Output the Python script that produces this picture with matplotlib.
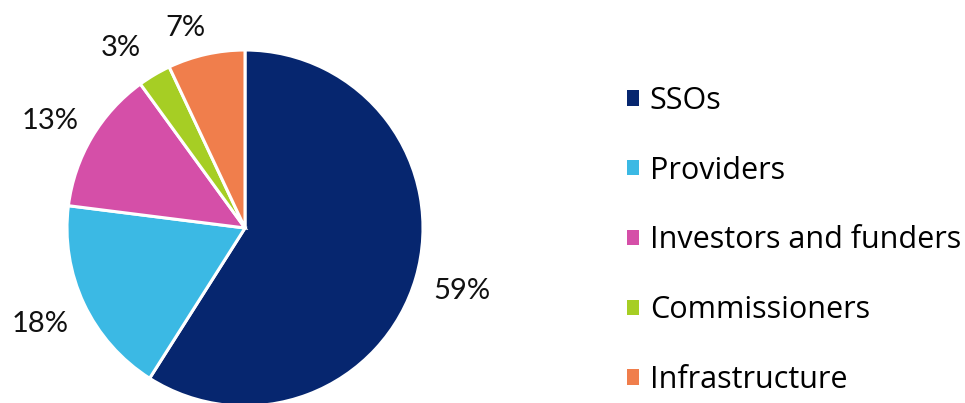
import matplotlib
matplotlib.use("Agg")
import matplotlib.pyplot as plt
import numpy as np

categories = ["SSOs", "Providers", "Investors and funders", "Commissioners", "Infrastructure"]
values = [59, 18, 13, 3, 7]
colors = ["#06266F", "#3BB9E4", "#D54FA8", "#A6CE24", "#F07E4C"]

W, H = 965, 403
fig = plt.figure(figsize=(W / 100, H / 100), dpi=100)
ax = fig.add_axes([0, 0, 1, 1])
cx, cy, R = 245, 228, 178

wedges, texts, autotexts = ax.pie(
    values, colors=colors, startangle=90, counterclock=False, radius=1,
    autopct=lambda p: f"{p:.0f}%", pctdistance=1.27,
    wedgeprops=dict(edgecolor="white", linewidth=2.2),
    textprops=dict(fontsize=21, family=["Lato", "DejaVu Sans"], color="#111111"),
)
# per-label radial distance / angular nudge (style)
dists = [1.27, 1.27, 1.25, 1.23, 1.17]
nudges = [0, 0, 2, 4, 4]
for w, t, d, n in zip(wedges, autotexts, dists, nudges):
    ang = np.deg2rad((w.theta1 + w.theta2) / 2 + n)
    t.set_position((d * np.cos(ang), d * np.sin(ang)))

ax.set_xlim(-cx / R, (W - cx) / R)
ax.set_ylim(-(H - cy) / R, cy / R)
ax.set_aspect("equal")
ax.axis("off")

leg = ax.legend(
    wedges, categories, loc="upper left", bbox_to_anchor=(627 / W, 1 - 86 / H),
    bbox_transform=fig.transFigure, frameon=False,
    prop=dict(family=["Open Sans", "DejaVu Sans"], size=22),
    handlelength=0.39, handleheight=0.39, handletextpad=0.36, labelspacing=1.3,
    borderpad=0, borderaxespad=0,
)
for h in leg.legend_handles:
    h.set_edgecolor("none")

fig.savefig("out.png", dpi=100)
